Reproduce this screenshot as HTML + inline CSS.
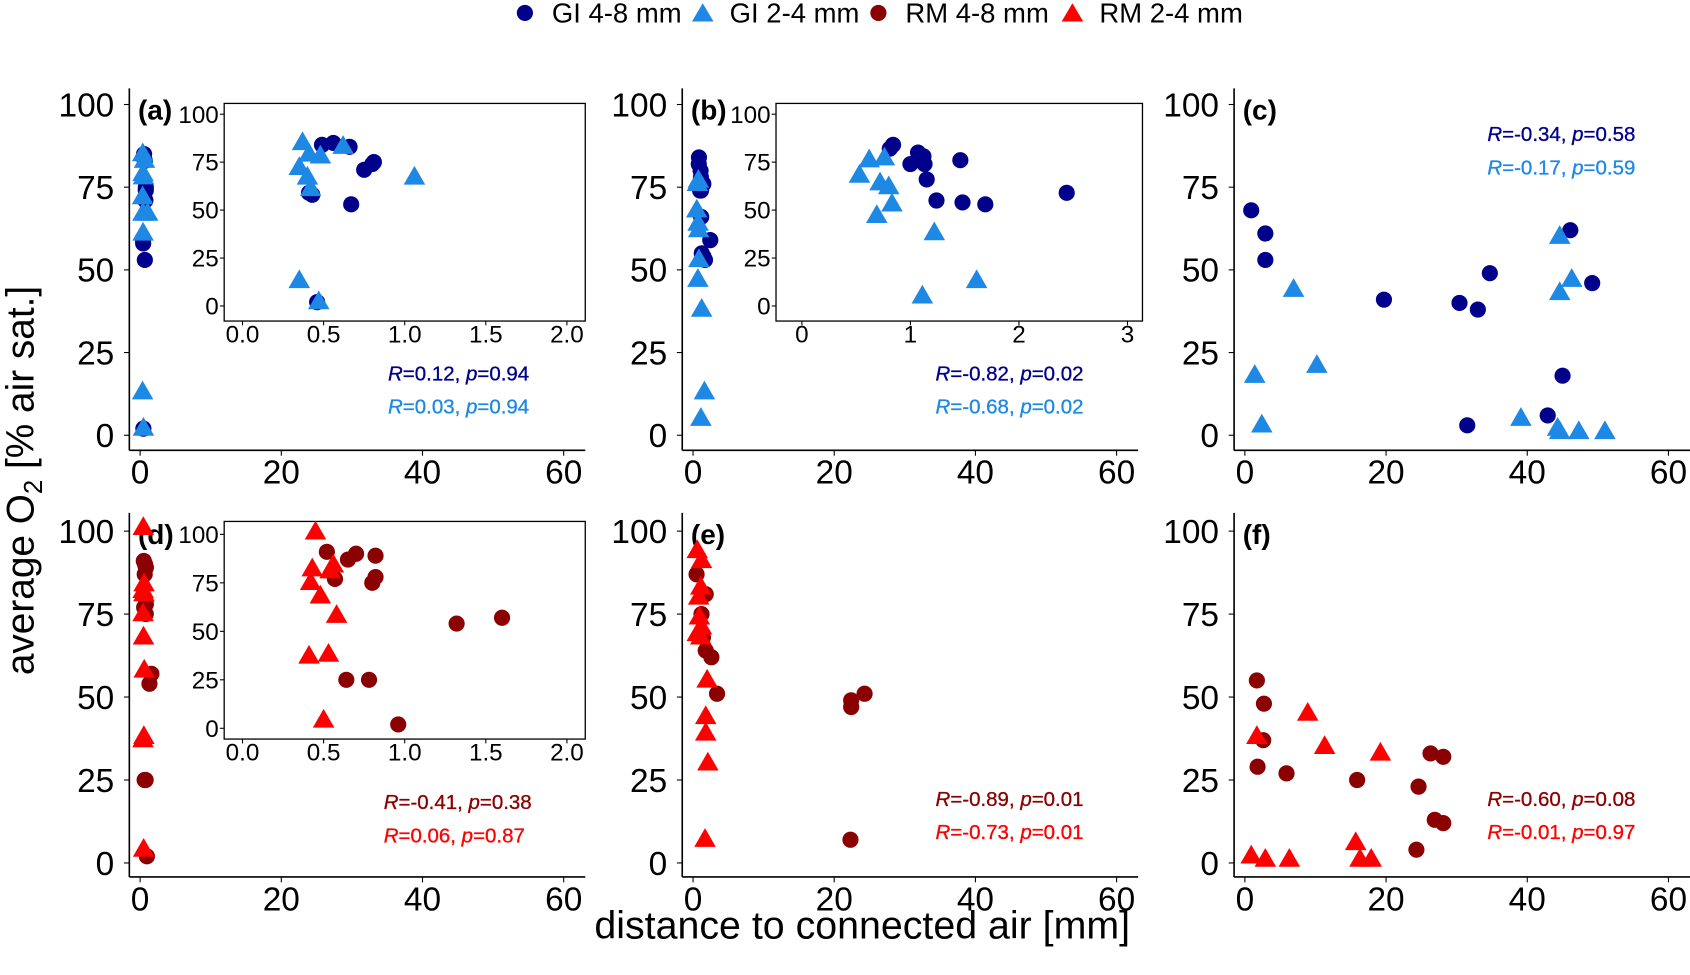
<!DOCTYPE html>
<html><head><meta charset="utf-8"><style>
html,body{margin:0;padding:0;background:#fff;}
svg{display:block;font-family:"Liberation Sans",Arial,sans-serif;}
</style></head><body>
<svg id="fig" width="1690" height="975" viewBox="0 0 1568 905" preserveAspectRatio="none" xmlns="http://www.w3.org/2000/svg">
<g font-size="25.5">
<circle cx="487" cy="12" r="7.5" fill="#00008B"/>
<text x="512" y="21">GI 4-8 mm</text>
<polygon points="652,3 642,20 662,20" fill="#1E88E5"/>
<text x="677" y="21">GI 2-4 mm</text>
<circle cx="815" cy="12" r="7.5" fill="#8B0000"/>
<text x="840" y="21">RM 4-8 mm</text>
<polygon points="995,3 985,20 1005,20" fill="#FF0000"/>
<text x="1020" y="21">RM 2-4 mm</text>
</g>
<text transform="translate(31,446) rotate(-90)" text-anchor="middle" font-size="36">average O<tspan font-size="24" dy="8">2</tspan><tspan dy="-8"> [% air sat.]</tspan></text>
<text x="800" y="871" text-anchor="middle" font-size="36.5">distance to connected air [mm]</text>
</svg>
<script>
// ---- data (x = distance mm, y = O2 %) ----
const aCircX=[0.49,0.56,0.66,0.43,0.41,0.75,0.81,0.80,0.67,0.46];
const aCircY=[84,85,83,58,59,71,75,74,53,2];
const aTriX=[0.37,0.41,0.48,0.62,0.35,0.40,0.42,1.06,0.35,0.47];
const aTriY=[85,79,78,83,72,67,61,67,13,2];
const bCircX=[0.84,0.81,1.07,1.12,1.00,1.13,1.15,1.24,1.46,1.48,1.69,2.44];
const bCircY=[84,82,80,78,74,74,66,55,76,54,53,59];
const bTriX=[0.62,0.53,0.76,0.72,0.80,0.69,0.83,1.22,1.11,1.61];
const bTriY=[76,68,77,64,62,47,53,38,5,13];
const cCircX=[0.9,2.9,2.9,19.7,30.4,33,34.7,46.1,49.2,45,42.9,31.5];
const cCircY=[68,61,53,41,40,38,49,62,46,18,6,3];
const cTriX=[1.4,2.4,6.9,10.2,44.6,44.6,46.3,39.1,44.3,44.6,47.3,51];
const cTriY=[18,3,44,21,60,43,47,5,2,1,1,1];
const dCircX=[0.52,0.70,0.82,0.65,0.57,0.82,0.80,0.78,0.64,0.96,1.32,1.60];
const dCircY=[91,90,89,87,77,78,75,25,25,2,54,57];
const dTriX=[0.45,0.43,0.56,0.54,0.42,0.48,0.58,0.41,0.53,0.50];
const dTriY=[101,82,84,81,75,68,58,37,38,4];
const eCircX=[0.5,1.8,1.2,1.4,1.8,2.6,3.4,22.4,24.3,22.4,22.3];
const eCircY=[87,81,75,68,64,62,51,49,51,47,7];
const eTriX=[0.6,1.2,1.1,0.8,0.9,1.2,0.6,1.1,2.0,1.8,1.8,2.1,1.7];
const eTriY=[94,91,83,80,74,71,69,68,55,44,39,30,7];
const fCircX=[1.7,2.7,2.6,1.8,5.9,15.9,24.6,26.3,28.1,26.9,28.1,24.3];
const fCircY=[55,48,37,29,27,25,23,33,32,13,12,4];
const fTriX=[1.7,8.9,11.3,19.2,0.9,2.9,6.3,15.7,16.3,17.9];
const fTriY=[38,45,35,33,2,1,1,6,1,1];
const yTicks=[0,25,50,75,100];
const mainXTicks=[0,20,40,60];
const insetXTicksA=["0.0","0.5","1.0","1.5","2.0"];
const insetXTicksB=["0","1","2","3"];
const statsA=["0.12","0.94","0.03","0.94"];
const statsB=["-0.82","0.02","-0.68","0.02"];
const statsC=["-0.34","0.58","-0.17","0.59"];
const statsD=["-0.41","0.38","0.06","0.87"];
const statsE=["-0.89","0.01","-0.73","0.01"];
const statsF=["-0.60","0.08","-0.01","0.97"];

const NS="http://www.w3.org/2000/svg";
const svg=document.getElementById('fig');
function mk(tag,attrs,parent){const e=document.createElementNS(NS,tag);for(const k in attrs)e.setAttribute(k,attrs[k]);(parent||svg).appendChild(e);return e;}
const C1="#00008B",C2="#1E88E5",C3="#8B0000",C4="#FF0000";

function circ(g,x,y,col,r){const c=mk('circle',{cx:x,cy:y,r:r,fill:col},g);

}
function tri(g,x,y,col,s){const h=s*0.87;const t=mk('polygon',{points:`${x},${y-h*0.62} ${x-s/2},${y+h*0.38} ${x+s/2},${y+h*0.38}`,fill:col},g);

}

function panel(name,ox,row,label,series,stats,statPos,inset){
  const g=mk('g',{});
  
  
  const axX=ox-10, x0=ox, xs=6.55;
  const top=row?476:82, bot=row?814:418, y0=row?801:404, ys=row?3.08:3.07;
  const sx=v=>x0+v*xs, sy=v=>y0-v*ys;
  mk('line',{x1:axX,y1:top,x2:axX,y2:bot,stroke:'#000','stroke-width':1.5},g);
  mk('line',{x1:axX,y1:bot,x2:axX+423,y2:bot,stroke:'#000','stroke-width':1.5},g);
  yTicks.forEach(t=>{mk('line',{x1:axX-5,y1:sy(t),x2:axX,y2:sy(t),stroke:'#000'},g);
    const tx=mk('text',{x:axX-14,y:sy(t)+11,'text-anchor':'end','font-size':31},g);tx.textContent=t;
    
    });
  mainXTicks.forEach(t=>{mk('line',{x1:sx(t),y1:bot,x2:sx(t),y2:bot+5,stroke:'#000'},g);
    const tx=mk('text',{x:sx(t),y:bot+31,'text-anchor':'middle','font-size':31},g);tx.textContent=t;
    
    });
  const pl=mk('text',{x:ox-2,y:row?505:111,'font-size':26,'font-weight':'bold'},g);pl.textContent=label;
  
  
  series.forEach(s=>{s.x.forEach((v,i)=>{s.t?tri(g,sx(v),sy(s.y[i]),s.c,20):circ(g,sx(v),sy(s.y[i]),s.c,7.5);});});
  [[stats[0],stats[1],series[0].c],[stats[2],stats[3],series[1].c]].forEach((st,k)=>{
    const t=mk('text',{x:statPos[0],y:statPos[1]+k*31,'font-size':19,fill:st[2],stroke:st[2],'stroke-width':0.3},g);
    t.innerHTML=`<tspan font-style="italic">R</tspan>=${st[0]}, <tspan font-style="italic">p</tspan>=${st[1]}`;
    
    });
  if(inset){
    const ig=mk('g',{},g);
    
    
    const bx=inset.bx, by=row?484:96, bw=inset.bw, bh=202;
    const iy0=row?676:284, iys=row?1.8:1.78;
    const isx=v=>inset.x0+v*inset.xs, isy=v=>iy0-v*iys;
    mk('rect',{x:bx,y:by,width:bw,height:bh,fill:'#fff',stroke:'#000','stroke-width':1.2},ig);
    yTicks.forEach(t=>{mk('line',{x1:bx-4,y1:isy(t),x2:bx,y2:isy(t),stroke:'#000'},ig);
      const tx=mk('text',{x:bx-5,y:isy(t)+8,'text-anchor':'end','font-size':22.5},ig);tx.textContent=t;
      
      });
    inset.ticks.forEach(t=>{const v=parseFloat(t);mk('line',{x1:isx(v),y1:by+bh,x2:isx(v),y2:by+bh+4,stroke:'#000'},ig);
      const tx=mk('text',{x:isx(v),y:by+bh+20,'text-anchor':'middle','font-size':22.5},ig);tx.textContent=t;
      
      });
    series.forEach(s=>{s.x.forEach((v,i)=>{s.t?tri(ig,isx(v),isy(s.y[i]),s.c,20):circ(ig,isx(v),isy(s.y[i]),s.c,7.5);});});
  }
}
panel('a',130,0,'(a)',[{x:aCircX,y:aCircY,c:C1},{x:aTriX,y:aTriY,c:C2,t:1}],statsA,[360,353],{bx:208,bw:335,x0:225,xs:150.5,ticks:insetXTicksA});
panel('b',643,0,'(b)',[{x:bCircX,y:bCircY,c:C1},{x:bTriX,y:bTriY,c:C2,t:1}],statsB,[868,353],{bx:720,bw:340,x0:744,xs:100.7,ticks:insetXTicksB});
panel('c',1155,0,'(c)',[{x:cCircX,y:cCircY,c:C1},{x:cTriX,y:cTriY,c:C2,t:1}],statsC,[1380,131],null);
panel('d',130,1,'(d)',[{x:dCircX,y:dCircY,c:C3},{x:dTriX,y:dTriY,c:C4,t:1}],statsD,[356,751],{bx:208,bw:335,x0:225,xs:150.5,ticks:insetXTicksA});
panel('e',643,1,'(e)',[{x:eCircX,y:eCircY,c:C3},{x:eTriX,y:eTriY,c:C4,t:1}],statsE,[868,748],null);
panel('f',1155,1,'(f)',[{x:fCircX,y:fCircY,c:C3},{x:fTriX,y:fTriY,c:C4,t:1}],statsF,[1380,748],null);
</script>
</body></html>
